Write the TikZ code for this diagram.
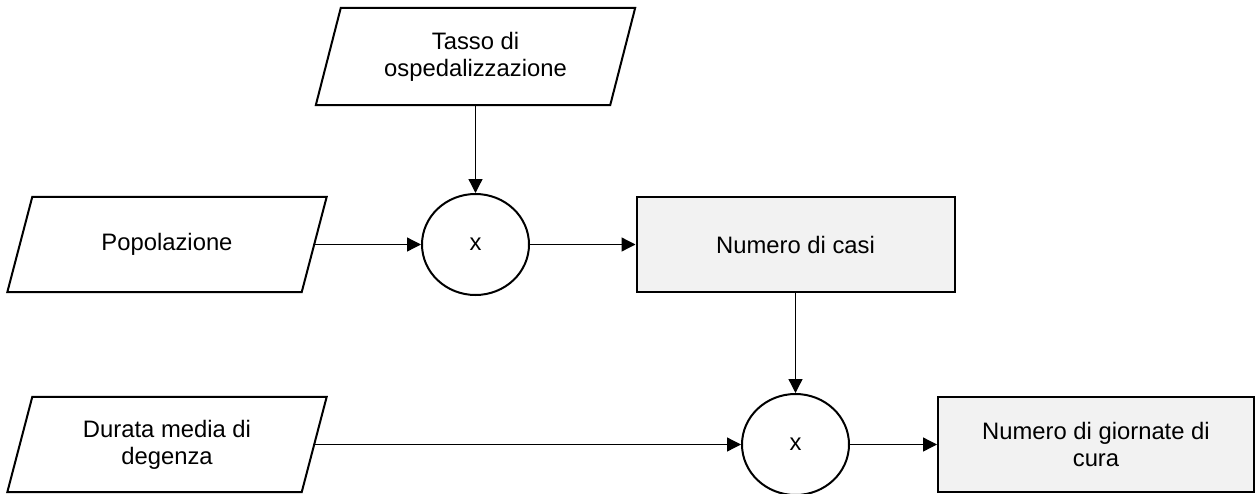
\documentclass[tikz,border=0pt]{standalone}
\usepackage{fontspec}
\setmainfont{Liberation Sans}
\usetikzlibrary{arrows.meta,shapes.geometric}
\begin{document}
\begin{tikzpicture}[x=1pt,y=-1pt,
  every node/.style={font=\fontsize{23.8pt}{27pt}\selectfont, align=center, inner sep=0pt},
  para/.style={minimum width=294pt, minimum height=95pt},
  procbox/.style={draw=black, line width=2pt, fill=black!5, minimum width=318pt, minimum height=95pt},
  mult/.style={draw=black, line width=2pt, ellipse, minimum width=107pt, minimum height=101pt},
  shapeline/.style={draw=black, line width=2pt, line join=miter},
  conn/.style={line width=1.3pt, -{Triangle[length=14pt,width=14pt]}}
]
\useasboundingbox (0,0) rectangle (1256,493);

\node[para, minimum height=97pt] (tasso) at (475.5,56.5) {Tasso di\\ospedalizzazione};
\node[para] (pop) at (167,244.5) {Popolazione};
\node[para] (dur) at (167,444.5) {Durata media di\\degenza};

\foreach \n in {tasso,pop,dur}
  \draw[shapeline] ([xshift=12.5pt]\n.north west) -- ([xshift=12.5pt]\n.north east)
     -- ([xshift=-12.5pt]\n.south east) -- ([xshift=-12.5pt]\n.south west) -- cycle;

\node[mult] (m1) at (475.5,244.5) {x};
\node[mult] (m2) at (795.5,444.5) {x};

\node[procbox] (casi) at (795.5,244.5) {Numero di casi};
\node[procbox, minimum width=316pt] (giorn) at (1096,444.5) {Numero di giornate di\\cura};

\draw[conn] (tasso.south) -- (m1.north);
\draw[conn] (pop.east) -- (m1.west);
\draw[conn] (m1.east) -- (casi.west);
\draw[conn] (casi.south) -- (m2.north);
\draw[conn] (dur.east) -- (m2.west);
\draw[conn] (m2.east) -- (giorn.west);
\end{tikzpicture}
\end{document}
